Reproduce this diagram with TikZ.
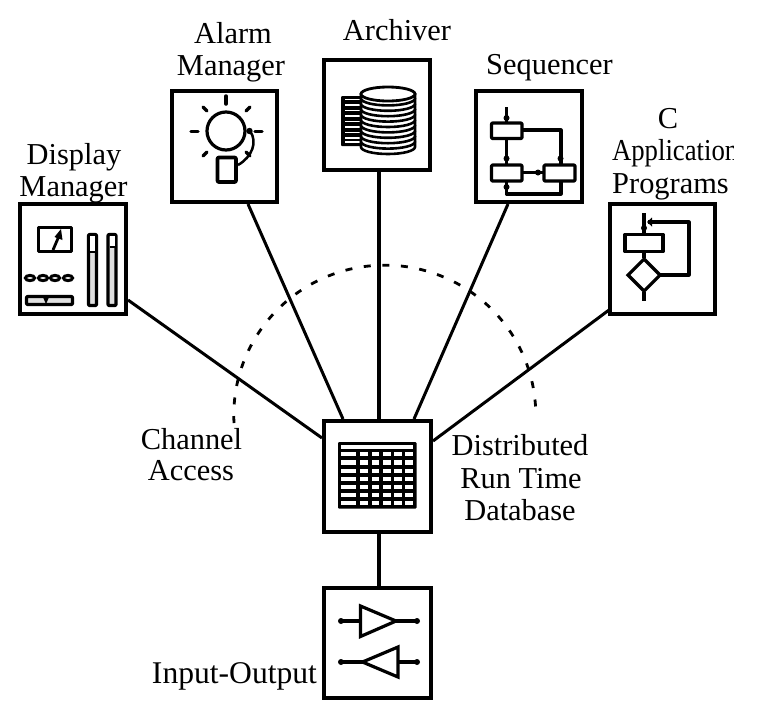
\documentclass[tikz,border=0pt]{standalone}
\usepackage{fontspec}
\setmainfont{Liberation Serif}
\tikzset{
  box/.style={draw,line width=4pt,fill=white,inner sep=0pt,outer sep=0pt},
  lbl/.style={inner sep=0pt,outer sep=0pt,anchor=base,font=\fontsize{30.4}{32}\selectfont},
  wire/.style={line width=3.2pt},
  icon/.style={line width=3.2pt,line join=round},
  link/.style={line width=3pt},
  dot/.style={fill=black,draw=none}
}
\begin{document}
\begin{tikzpicture}[x=1pt,y=-1pt]
\useasboundingbox (0,0) rectangle (763,716);
% boxes
\node[box,minimum width=106pt,minimum height=110pt] (disp) at (73,259) {};
\node[box,minimum width=105pt,minimum height=111pt] (alarm) at (224.5,146.5) {};
\node[box,minimum width=106pt,minimum height=110pt] (arch) at (377,115) {};
\node[box,minimum width=106pt,minimum height=111pt] (seq) at (529,146.5) {};
\node[box,minimum width=105pt,minimum height=110pt] (capp) at (662.5,259) {};
\node[box,minimum width=107pt,minimum height=111pt] (db) at (377.5,476.5) {};
\node[box,minimum width=107pt,minimum height=110pt] (io) at (377.5,643) {};
% connector ends
\coordinate (e1) at (128,300); \coordinate (e2) at (322,438);
\coordinate (e3) at (248,204); \coordinate (e4) at (343,419);
\coordinate (e5) at (379,172); \coordinate (e6) at (379,419);
\coordinate (e7) at (508,204); \coordinate (e8) at (414,419);
\coordinate (e9) at (609,310); \coordinate (e10) at (433,441);
\coordinate (e11) at (379,534); \coordinate (e12) at (379,586);
\draw[link] (e1) -- (e2);
\draw[link] (e3) -- (e4);
\draw[link,line width=4pt] (e5) -- (e6);
\draw[link] (e7) -- (e8);
\draw[link] (e9) -- (e10);
\draw[link,line width=4.5pt] (e11) -- (e12);
% dashed arc
\draw[line width=2.8pt,dash pattern=on 7pt off 11.6pt] (234,423) arc[start angle=183,end angle=0,x radius=151pt,y radius=150pt];
% labels
\node[lbl] (t1) at (74,164) {Display};
\node[lbl] (t2) at (73.5,196) {Manager};
\node[lbl] (t3) at (233,43) {Alarm};
\node[lbl] (t4) at (231,75) {Manager};
\node[lbl] (t5) at (397,40) {Archiver};
\node[lbl] (t6) at (549.5,74) {Sequencer};
\begin{scope}
\clip (590,90) rectangle (733,200);
\node[lbl] (t7) at (668,128) {C};
\node[lbl,anchor=base west,xscale=.88] (t8) at (612,160) {Application};
\node[lbl] (t9) at (670.5,193) {Programs};
\end{scope}
\node[lbl] (t10) at (191.5,449) {Channel};
\node[lbl] (t11) at (191,480) {Access};
\node[lbl] (t12) at (520,455) {Distributed};
\node[lbl] (t13) at (521,488) {Run Time};
\node[lbl] (t14) at (520,520) {Database};
\node[lbl,font=\fontsize{31.6}{32}\selectfont] (t15) at (234.5,683) {Input-Output};
% Display icon
\draw[icon,line width=3.5pt] (38.5,227.5) rectangle (71.5,251.5);
\draw[icon,line width=2.8pt] (53,250) -- (59,236);
\fill (61,229) -- (62.5,240) -- (54.5,237) -- cycle;
\draw[icon,fill=black!12,rounded corners=1pt] (88.5,234.5) rectangle (96.5,305.5);
\fill[white] (90,236) rectangle (95,251);
\draw[line width=2.4pt] (90,252) -- (95,252);
\draw[icon,fill=black!12,rounded corners=1pt] (108,234.5) rectangle (116,305.5);
\fill[white] (109.5,236) rectangle (114.5,246);
\draw[line width=2.4pt] (109.5,247) -- (114.5,247);
\foreach \cx in {30,43,55,68} \draw[line width=3pt] (\cx,278) ellipse[x radius=4.6pt,y radius=2.6pt];
\draw[icon,fill=black!12,rounded corners=1pt] (26.5,296.5) rectangle (72.5,304.5);
\fill (42,295) -- (50,295) -- (46,304) -- cycle;
% Alarm icon
\draw[icon] (226,131) circle[radius=19pt];
\draw[icon,line width=3.5pt,line cap=round] (226,96) -- (226,104);
\draw[icon,line width=3.5pt,line cap=round] (191,131.5) -- (198,131.5);
\draw[icon,line width=3.5pt,line cap=round] (255,131.5) -- (262,131.5);
\draw[icon,line cap=round] (203,107) -- (207,111);
\draw[icon,line cap=round] (250,107) -- (246,111);
\draw[icon,line cap=round] (203,156) -- (207,152);
\draw[icon,line cap=round] (250,156) -- (246,152);
\draw[icon,line width=3.6pt,rounded corners=1pt] (217.5,157.5) rectangle (236,182);
\draw[line width=2.5pt] (238,165) .. controls (252,157) and (258,142) .. (250,131);
\fill[dot] (249.5,131) circle[radius=3.2pt];
% Archiver icon
\fill[rounded corners=1pt] (341,96) rectangle (365,146);
\foreach \yy in {99.5,105,110.5,116,121.5,127,132.5,138,142}
  \draw[white,line width=1.4pt] (345,\yy) -- (362,\yy);
\foreach \yy in {147,141.6,136.2,130.8,125.4,120,114.6,109.2,103.8,98.4}
  \draw[line width=2.6pt,fill=white] (361,\yy-5.4) -- (361,\yy) arc[start angle=180,end angle=360,x radius=27pt,y radius=7pt] -- (415,\yy-5.4);
\draw[line width=2.8pt,fill=white] (388,94) ellipse[x radius=27pt,y radius=7pt];
% Table icon
\fill[rounded corners=1pt] (338,442) rectangle (416.5,508.5);
\fill[white] (341,445) rectangle (413,449);
\foreach \yy in {454.3,462.5,470.7,478.9,487,495,503}
  \foreach \xa/\xb in {341/356,360/368.3,371.7/379.3,383.3/391,394/402.3,405.3/413}
    \fill[white] (\xa,\yy-2.1) rectangle (\xb,\yy+2.1);
% Sequencer icon
\draw[wire] (506.5,107) -- (506.5,123);
\draw[wire] (506.5,138) -- (506.5,166);
\draw[wire,line join=round] (521.5,130) -- (561,130) -- (561,166);
\draw[wire] (521.5,172.5) -- (545,172.5);
\draw[wire,line join=round] (561,181) -- (561,194) -- (506.5,194) -- (506.5,181);
\draw[icon,rounded corners=1pt] (491.5,123) rectangle (522,138.5);
\draw[icon,rounded corners=1pt] (491.5,165) rectangle (522,181);
\draw[icon,rounded corners=1pt] (544,165) rectangle (575,181);
\fill[dot] (506.5,118) circle[radius=3pt];
\fill[dot] (506.5,158.5) circle[radius=3pt];
\fill[dot] (560.5,158.5) circle[radius=3pt];
\fill[dot] (538,172.5) circle[radius=3pt];
\fill[dot] (506.5,187) circle[radius=3pt];
% C program icon
\draw[wire] (644,213) -- (644,234);
\draw[wire] (644,252) -- (644,258);
\draw[wire] (644,292) -- (644,301);
\draw[wire,line join=round] (660,275) -- (689,275) -- (689,222) -- (648,222);
\draw[icon] (625,234.5) rectangle (663,251.5);
\draw[icon,line join=miter] (644,259) -- (660,275) -- (644,291) -- (628,275) -- cycle;
\fill[dot] (644,228) circle[radius=3pt];
\fill[dot] (647,222) -- (652,217.5) -- (652,226.5) -- cycle;
% IO icon
\draw[wire] (341,621) -- (361,621);
\draw[wire] (396,621) -- (417,621);
\draw[wire] (341,662) -- (363,662);
\draw[wire] (397,662) -- (417,662);
\draw[icon,line join=miter] (360.5,606) -- (396,621) -- (360.5,636.5) -- cycle;
\draw[icon,line join=miter] (398,647) -- (362.5,662) -- (398,677) -- cycle;
\foreach \px/\py in {341/621,417/621,341/662,417/662}
  \fill[dot] (\px,\py) circle[radius=3pt];
\end{tikzpicture}
\end{document}
